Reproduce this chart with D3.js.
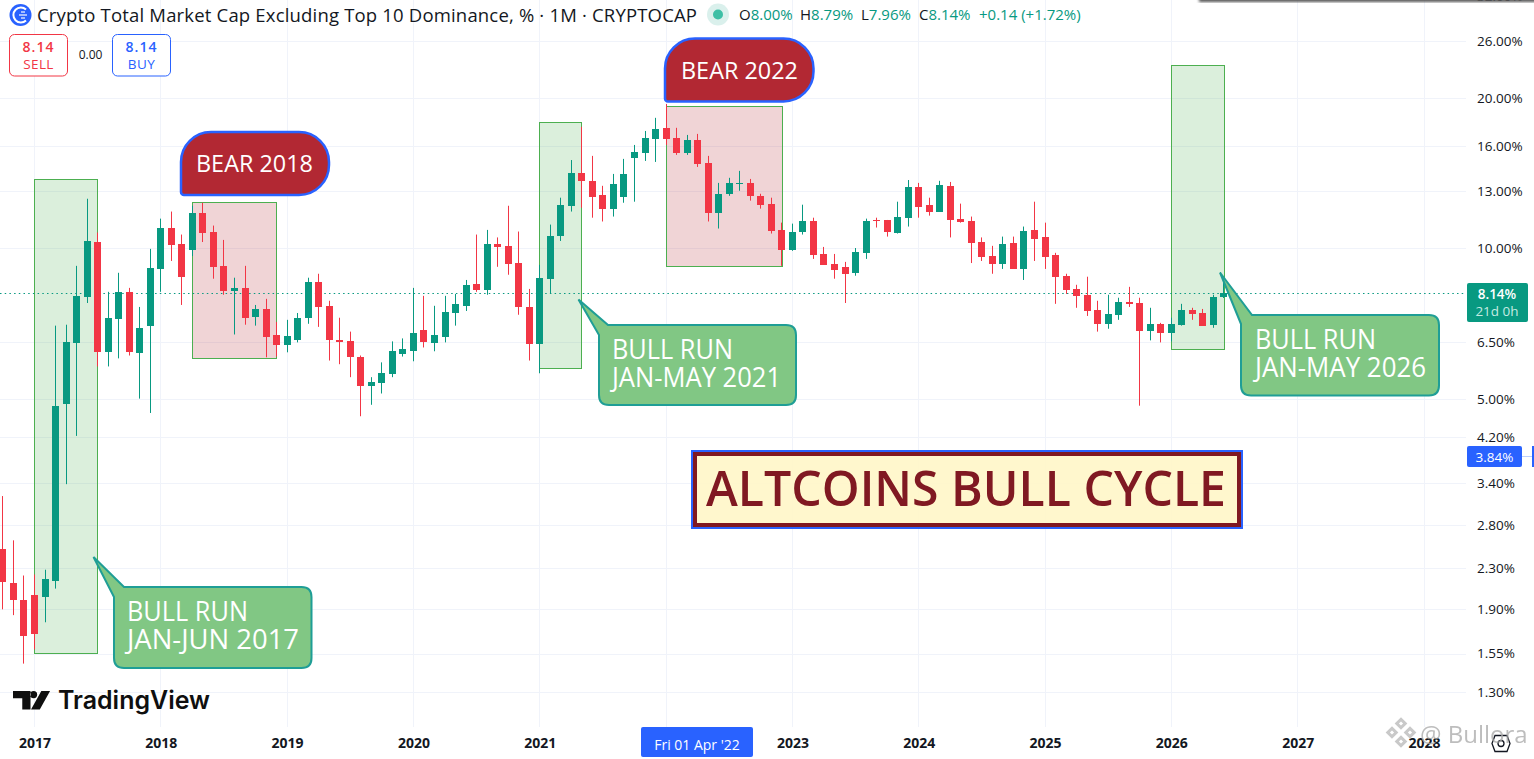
<!DOCTYPE html>
<html>
<head>
<meta charset="utf-8">
<title>Crypto Total Market Cap Excluding Top 10 Dominance</title>
<script src="https://cdn.jsdelivr.net/npm/d3@7"></script>
<style>
  html, body { margin: 0; padding: 0; background: #fff; overflow: hidden; }
  svg { display: block; font-family: "Open Sans", sans-serif; }
</style>
</head>
<body>
<svg id="chart" width="1534" height="759"></svg>
<script>
// monthly candles, first one is Oct 2016, one row per calendar year
const firstYear = 2016, firstMonth = 9

const opens = [
  2.51, 2.14, 1.98,
  2.03, 2.01, 2.17, 4.87, 6.49, 8.00, 10.30, 6.23, 7.23, 8.19, 6.20, 7.01,
  9.10, 11.01, 10.21, 9.93, 11.79, 10.81, 9.23, 8.23, 8.34, 7.30, 7.57, 6.70,
  6.40, 6.56, 7.27, 8.58, 7.68, 6.56, 6.52, 6.08, 5.31, 5.38, 5.61, 6.17,
  6.25, 6.87, 6.46, 6.67, 7.43, 7.68, 8.50, 8.26, 10.21, 10.12, 9.35, 7.64,
  6.46, 8.70, 10.61, 12.17, 14.16, 13.65, 12.80, 12.01, 12.68, 15.17, 15.52, 16.56,
  17.42, 16.63, 15.52, 16.47, 14.82, 11.79, 12.86, 13.46, 13.52, 12.74, 12.29, 10.89,
  9.93, 10.81, 11.37, 9.75, 9.31, 9.19, 8.94, 9.80, 11.40, 11.40, 10.76, 11.52,
  13.28, 12.23, 11.85, 13.34, 11.47, 11.37, 10.30, 9.66, 9.31, 10.26, 9.10, 10.89,
  10.56, 9.71, 8.82, 8.30, 8.08, 7.53, 7.07, 7.37, 7.82, 7.78, 6.85, 7.07,
  6.79, 7.04, 7.53, 7.43, 7.04, 8.00
]
const highs = [
  3.20, 2.61, 2.22,
  2.23, 2.28, 7.01, 7.04, 9.23, 12.57, 10.76, 8.19, 8.94, 8.34, 7.64, 9.98,
  11.47, 11.85, 10.66, 12.17, 12.34, 11.11, 10.40, 8.74, 9.23, 7.71, 7.93, 7.13,
  7.20, 7.43, 8.74, 8.90, 7.86, 7.27, 6.82, 6.11, 5.53, 5.92, 6.52, 6.61,
  8.34, 8.04, 7.68, 8.04, 8.11, 8.65, 10.66, 10.89, 10.52, 12.17, 10.81, 8.30,
  9.27, 11.16, 12.63, 15.02, 17.50, 15.31, 13.34, 14.09, 15.10, 16.10, 17.17, 18.24,
  19.44, 17.42, 16.86, 16.94, 15.31, 13.52, 13.84, 14.29, 13.77, 12.86, 12.63, 11.26,
  11.21, 12.23, 11.52, 10.07, 9.75, 9.40, 10.02, 11.47, 11.52, 11.40, 12.40, 13.70,
  13.52, 12.63, 13.65, 13.58, 12.29, 11.58, 10.52, 10.12, 10.56, 10.56, 11.06, 12.40,
  11.26, 9.80, 8.90, 8.46, 8.78, 7.86, 8.08, 7.97, 8.38, 7.97, 7.61, 7.10,
  7.27, 7.75, 7.61, 7.57, 8.08, 8.79
]
const lows = [
  1.90, 1.85, 1.48,
  1.58, 1.79, 2.09, 3.38, 4.22, 7.78, 5.81, 5.81, 6.03, 6.11, 5.01, 4.69,
  8.19, 9.44, 7.71, 9.66, 10.30, 8.70, 8.08, 6.73, 7.04, 7.01, 6.06, 6.08,
  6.20, 6.49, 7.07, 6.97, 5.97, 5.87, 5.53, 4.62, 4.87, 5.13, 5.53, 6.08,
  5.95, 6.34, 6.23, 6.49, 7.01, 7.50, 8.19, 8.08, 9.19, 8.86, 7.37, 5.97,
  5.63, 8.11, 10.35, 11.85, 12.06, 11.52, 11.32, 11.58, 12.34, 12.40, 14.96, 14.89,
  16.10, 15.38, 15.38, 14.55, 11.32, 10.96, 12.74, 13.04, 12.46, 12.01, 10.71, 9.23,
  9.89, 10.66, 9.53, 9.27, 8.70, 7.78, 8.82, 9.53, 11.01, 10.56, 10.71, 11.06,
  11.52, 11.63, 11.85, 10.52, 11.26, 9.35, 9.44, 8.90, 9.10, 9.10, 8.65, 9.44,
  9.10, 7.75, 8.11, 7.61, 7.33, 6.82, 6.91, 7.20, 7.64, 4.85, 6.55, 6.49,
  6.52, 7.01, 7.20, 7.01, 6.94, 7.96
]
const closes = [
  2.16, 1.98, 1.68,
  1.70, 2.18, 4.85, 6.49, 8.04, 10.35, 6.20, 7.27, 8.19, 6.20, 6.94, 9.14,
  11.01, 10.16, 8.78, 11.79, 10.76, 9.19, 8.23, 8.34, 7.27, 7.57, 6.67, 6.40,
  6.67, 7.27, 8.58, 7.64, 6.56, 6.49, 6.06, 5.31, 5.40, 5.63, 6.25, 6.31,
  6.79, 6.49, 6.70, 7.47, 7.75, 8.46, 8.26, 10.21, 10.07, 9.31, 7.64, 6.43,
  8.74, 10.61, 12.23, 14.16, 13.65, 12.68, 12.01, 13.46, 14.09, 15.59, 16.63, 17.34,
  16.56, 15.52, 16.47, 14.75, 11.79, 12.86, 13.52, 13.52, 12.74, 12.23, 10.86, 9.93,
  10.81, 11.37, 9.71, 9.27, 9.06, 8.90, 9.84, 11.37, 11.37, 10.81, 11.58, 13.28,
  12.12, 11.85, 13.40, 11.40, 11.32, 10.26, 9.62, 9.31, 10.21, 9.10, 10.86, 10.47,
  9.62, 8.78, 8.26, 8.04, 7.50, 7.07, 7.40, 7.82, 7.75, 6.85, 7.07, 6.79,
  7.07, 7.53, 7.40, 7.01, 8.00, 8.14
]

const priceTicks = [32, 26, 20, 16, 13, 10, 6.5, 5, 4.2, 3.4, 2.8, 2.3, 1.9, 1.55, 1.3]
const yearTicks = [2017, 2018, 2019, 2020, 2021, 2022, 2023, 2024, 2025, 2026, 2027, 2028]
const lastPrice = 8.14
const crossPrice = 3.84

// boxes drawn on the chart: [from year, from month, to year, to month, top %, bottom %]
const bullBoxes = [
  [2017, 0, 2017, 6, 13.74, 1.55],
  [2021, 0, 2021, 4, 17.87, 5.76],
  [2026, 0, 2026, 5, 23.21, 6.28]
]
const bearBoxes = [
  [2018, 3, 2018, 11, 12.41, 6.05],
  [2022, 0, 2022, 11, 19.27, 9.21]
]

const green = "#089981", red = "#f23645", blue = "#2962ff", ink = "#131722"
const width = 1534, height = 759
const plotRight = 1466, plotBottom = 727

const monthIndex = (year, month) => (year - firstYear) * 12 + month - firstMonth

const x = d3.scaleLinear().domain([0, 135]).range([2.9, 1424])
const y = d3.scaleLog().domain([1.3, 26]).range([691.8, 40.8])

const bars = closes.map((c, i) => ({ i, o: opens[i], h: highs[i], l: lows[i], c }))

const svg = d3.select("#chart")
svg.append("rect").attr("width", width).attr("height", height).attr("fill", "#fff")

// grid
svg.append("g").selectAll("line").data(priceTicks.slice(1)).join("line")
    .attr("x1", 0).attr("x2", plotRight)
    .attr("y1", d => Math.round(y(d)) + .5).attr("y2", d => Math.round(y(d)) + .5)
    .attr("stroke", "#f0f3fa")
svg.append("g").selectAll("line").data(yearTicks).join("line")
    .attr("x1", d => Math.floor(x(monthIndex(d, 0))) + .5).attr("x2", d => Math.floor(x(monthIndex(d, 0))) + .5)
    .attr("y1", 0).attr("y2", plotBottom)
    .attr("stroke", "#f0f3fa")

// shaded boxes
function drawBoxes(list, fill) {
  svg.append("g").selectAll("rect").data(list).join("rect")
      .attr("x", d => Math.floor(x(monthIndex(d[0], d[1]))) + .5)
      .attr("width", d => Math.round(x(monthIndex(d[2], d[3])) - x(monthIndex(d[0], d[1]))))
      .attr("y", d => Math.round(y(d[4])) + .5)
      .attr("height", d => Math.round(y(d[5]) - y(d[4])))
      .attr("fill", fill)
      .attr("stroke", "#4caf50")
      .attr("stroke-width", 1)
}
drawBoxes(bullBoxes, "rgba(76,175,80,.2)")
drawBoxes(bearBoxes, "rgba(178,40,51,.2)")

// last price line
svg.append("line")
    .attr("x1", 0).attr("x2", plotRight)
    .attr("y1", Math.floor(y(lastPrice)) + .5).attr("y2", Math.floor(y(lastPrice)) + .5)
    .attr("stroke", green).attr("stroke-dasharray", "1.5 3.2").attr("stroke-width", 1.2)

// candles
const candle = svg.append("g").selectAll("g").data(bars).join("g")
    .attr("fill", d => d.c >= d.o ? green : red)
    .attr("stroke", d => d.c >= d.o ? green : red)
candle.append("line")
    .attr("x1", d => Math.floor(x(d.i)) + .5).attr("x2", d => Math.floor(x(d.i)) + .5)
    .attr("y1", d => y(d.h)).attr("y2", d => y(d.l))
    .attr("stroke-width", 1)
candle.append("rect")
    .attr("x", d => Math.floor(x(d.i)) - 3).attr("width", 7)
    .attr("y", d => Math.round(y(Math.max(d.o, d.c))))
    .attr("height", d => Math.max(1, Math.round(Math.abs(y(d.o) - y(d.c)))))
    .attr("stroke", "none")

// right price scale
const yAxis = svg.append("g")
    .attr("transform", `translate(1467,0)`)
    .call(d3.axisRight(y).tickValues(priceTicks).tickSize(0).tickPadding(10)
      .tickFormat(d => d.toFixed(2) + "%"))
yAxis.select(".domain").remove()
yAxis.selectAll("text").attr("font-size", 13.5).attr("fill", ink).attr("font-family", "Open Sans")

// time scale
const xAxis = svg.append("g")
    .attr("transform", `translate(0,${plotBottom})`)
    .call(d3.axisBottom(x).tickValues(yearTicks.map(d => monthIndex(d, 0))).tickSize(0).tickPadding(11)
      .tickFormat(d => firstYear + Math.floor((d + firstMonth) / 12)))
xAxis.select(".domain").remove()
xAxis.selectAll("text").attr("font-size", 14).attr("font-weight", 700).attr("fill", ink).attr("font-family", "Open Sans")

// crosshair date label
svg.append("rect").attr("x", 641).attr("y", 727).attr("width", 112).attr("height", 30).attr("rx", 2).attr("fill", blue)
svg.append("text").attr("x", 697).attr("y", 750).attr("text-anchor", "middle")
    .attr("font-size", 14).attr("fill", "#fff").text("Fri 01 Apr '22")

// price labels
svg.append("rect").attr("x", 1467).attr("y", 283).attr("width", 61).attr("height", 39).attr("rx", 2).attr("fill", green)
svg.append("text").attr("x", 1497).attr("y", 299).attr("text-anchor", "middle")
    .attr("font-size", 13.5).attr("font-weight", 600).attr("fill", "#fff").text(lastPrice.toFixed(2) + "%")
svg.append("text").attr("x", 1497).attr("y", 316).attr("text-anchor", "middle")
    .attr("font-size", 13.5).attr("fill", "#c4ebe2").text("21d 0h")
svg.append("rect").attr("x", 1467).attr("y", 446).attr("width", 55).attr("height", 21).attr("rx", 2).attr("fill", blue)
svg.append("line").attr("x1", 1522).attr("x2", 1532).attr("y1", 456.5).attr("y2", 456.5).attr("stroke", "#bcd0ff")
svg.append("rect").attr("x", 1532).attr("y", 446).attr("width", 2).attr("height", 21).attr("fill", blue)
svg.append("text").attr("x", 1494.5).attr("y", 461.5).attr("text-anchor", "middle")
    .attr("font-size", 13.5).attr("fill", "#fff").text(crossPrice.toFixed(2) + "%")

// callouts
const callouts = [
  { left: 114, top: 587, right: 311.5, bottom: 668, tip: [93.5, 557], a: [124, 587], b: [114, 597], lines: ["BULL RUN", "JAN-JUN 2017"], fit: [121, 172], tx: 127, ty: 621 },
  { left: 599, top: 325, right: 796, bottom: 405, tip: [578.5, 299.5], a: [608, 325], b: [599, 335], lines: ["BULL RUN", "JAN-MAY 2021"], fit: [121, 169], tx: 612, ty: 359 },
  { left: 1241, top: 315, right: 1439, bottom: 395.5, tip: [1220, 272.5], a: [1252, 315], b: [1241, 324], lines: ["BULL RUN", "JAN-MAY 2026"], fit: [121, 171], tx: 1255, ty: 349 }
]
callouts.forEach(c => {
  const r = 10
  const p = d3.path()
  p.moveTo(c.b[0], c.b[1])
  p.lineTo(c.tip[0], c.tip[1])
  p.lineTo(c.a[0], c.a[1])
  p.lineTo(c.right - r, c.top)
  p.quadraticCurveTo(c.right, c.top, c.right, c.top + r)
  p.lineTo(c.right, c.bottom - r)
  p.quadraticCurveTo(c.right, c.bottom, c.right - r, c.bottom)
  p.lineTo(c.left + r, c.bottom)
  p.quadraticCurveTo(c.left, c.bottom, c.left, c.bottom - r)
  p.closePath()
  svg.append("path").attr("d", p.toString())
      .attr("fill", "#81c784").attr("stroke", "#1f9e96").attr("stroke-width", 2)
  c.lines.forEach((line, i) => {
    svg.append("text").attr("x", c.tx).attr("y", c.ty + i * 28)
        .attr("font-size", 27).attr("font-weight", 500).attr("fill", "#fff")
        .attr("textLength", c.fit[i]).attr("lengthAdjust", "spacingAndGlyphs")
        .text(line)
  })
})

// bear tags
const tags = [
  { left: 181, top: 132, right: 329, bottom: 195, text: "BEAR 2018", tx: 196, ty: 172 },
  { left: 665, top: 38.5, right: 813.5, bottom: 101.5, text: "BEAR 2022", tx: 681, ty: 79 }
]
tags.forEach(t => {
  const r = 30, rs = 3
  const p = d3.path()
  p.moveTo(t.left + r, t.top)
  p.lineTo(t.right - r, t.top)
  p.arcTo(t.right, t.top, t.right, t.top + r, r)
  p.lineTo(t.right, t.bottom - r)
  p.arcTo(t.right, t.bottom, t.right - r, t.bottom, r)
  p.lineTo(t.left + rs, t.bottom)
  p.arcTo(t.left, t.bottom, t.left, t.bottom - rs, rs)
  p.lineTo(t.left, t.top + r)
  p.arcTo(t.left, t.top, t.left + r, t.top, r)
  p.closePath()
  svg.append("path").attr("d", p.toString())
      .attr("fill", "#b22833").attr("stroke", blue).attr("stroke-width", 2.5)
  svg.append("text").attr("x", t.tx).attr("y", t.ty).attr("font-size", 24.5).attr("font-weight", 500).attr("fill", "#fff")
      .attr("textLength", 117).attr("lengthAdjust", "spacingAndGlyphs").text(t.text)
})

// title box
svg.append("rect").attr("x", 692).attr("y", 451).attr("width", 550).attr("height", 77)
    .attr("fill", "none").attr("stroke", blue).attr("stroke-width", 2)
svg.append("rect").attr("x", 695).attr("y", 454).attr("width", 544).attr("height", 71)
    .attr("fill", "rgba(255,246,200,.9)").attr("stroke", "#801922").attr("stroke-width", 4)
svg.append("text").attr("x", 706).attr("y", 505.5)
    .attr("font-size", 49).attr("font-weight", 600).attr("fill", "#801922")
    .attr("textLength", 520).attr("lengthAdjust", "spacingAndGlyphs").text("ALTCOINS BULL CYCLE")

// header
svg.append("circle").attr("cx", 20.5).attr("cy", 15).attr("r", 11).attr("fill", blue)
svg.append("path").attr("d", "M26 9.5A7.5 7.5 0 1 0 26 20.5").attr("fill", "none").attr("stroke", "#fff").attr("stroke-width", 2)
svg.append("path").attr("d", "M19 15H27M21 12H25M21 18H25").attr("fill", "none").attr("stroke", "#cfdcff").attr("stroke-width", 1.5)
svg.append("text").attr("x", 37).attr("y", 22).attr("font-size", 18.5).attr("fill", ink)
    .attr("textLength", 660).text("Crypto Total Market Cap Excluding Top 10 Dominance, % · 1M · CRYPTOCAP")
svg.append("circle").attr("cx", 718).attr("cy", 14.5).attr("r", 11).attr("fill", green).attr("opacity", .15)
svg.append("circle").attr("cx", 718).attr("cy", 14.5).attr("r", 5).attr("fill", "#3dbfa5")

const ohlc = [["O", "8.00%", 739], ["H", "8.79%", 800], ["L", "7.96%", 861], ["C", "8.14%", 919]]
ohlc.forEach(d => {
  const t = svg.append("text").attr("x", d[2]).attr("y", 20).attr("font-size", 15)
  t.append("tspan").attr("fill", ink).text(d[0])
  t.append("tspan").attr("fill", green).text(d[1])
})
svg.append("text").attr("x", 979).attr("y", 20).attr("font-size", 15).attr("fill", green).text("+0.14 (+1.72%)")

// sell / buy
function tradeBox(left, color, price, name) {
  svg.append("rect").attr("x", left).attr("y", 34.5).attr("width", 58).attr("height", 41.5)
      .attr("rx", 5).attr("fill", "#fff").attr("stroke", color)
  svg.append("text").attr("x", left + 29).attr("y", 52).attr("text-anchor", "middle")
      .attr("font-size", 14).attr("font-weight", 600).attr("letter-spacing", 1).attr("fill", color).text(price)
  svg.append("text").attr("x", left + 29).attr("y", 69).attr("text-anchor", "middle")
      .attr("font-size", 13.5).attr("letter-spacing", .4).attr("fill", color).text(name)
}
tradeBox(9.5, red, "8.14", "SELL")
tradeBox(112.5, blue, "8.14", "BUY")
svg.append("text").attr("x", 90.5).attr("y", 59).attr("text-anchor", "middle")
    .attr("font-size", 12).attr("fill", ink).text("0.00")

// tradingview logo
svg.append("path")
    .attr("transform", "translate(13,691) scale(1.03)")
    .attr("d", "M17 0H0V7H9V18H17ZM26 18H17.5L27.5 0H36ZM20 7A3.5 3.5 0 1 1 20 0A3.5 3.5 0 0 1 20 7Z")
    .attr("fill", "#0f0f0f")
svg.append("text").attr("x", 58).attr("y", 709).attr("font-size", 25).attr("font-weight", 600)
    .attr("font-family", "Inter").attr("fill", "#0f0f0f")
    .attr("textLength", 152).attr("lengthAdjust", "spacingAndGlyphs").text("TradingView")

// settings icon
svg.append("path").attr("d", "M1495 735.5H1507L1510 743.5L1507 751.5H1495L1492 743.5Z").attr("fill", "none").attr("stroke", ink).attr("stroke-width", 1.3)
svg.append("circle").attr("cx", 1501).attr("cy", 743.5).attr("r", 3).attr("fill", "none").attr("stroke", ink).attr("stroke-width", 1.3)

// watermark
svg.append("g").attr("transform", "translate(1401,732.5)").attr("fill", "none").attr("stroke", "#c9c9c9").attr("stroke-width", 3)
    .selectAll("rect").data([[0, -9], [-9, 0], [9, 0], [0, 9]]).join("rect")
    .attr("x", -3).attr("y", -3).attr("width", 6).attr("height", 6)
    .attr("transform", d => `translate(${d[0]},${d[1]}) rotate(45)`)
svg.append("text").attr("x", 1420).attr("y", 743).attr("font-size", 24).attr("fill", "#a8a8a8").attr("opacity", .75).text("@ Bullora")

// shadow of the menu at the top edge
const defs = svg.append("defs")
defs.append("filter").attr("id", "soft").append("feGaussianBlur").attr("stdDeviation", 1.5)
svg.append("rect").attr("x", 1199).attr("y", -6).attr("width", 340).attr("height", 8)
    .attr("fill", "#555").attr("filter", "url(#soft)")
</script>
</body>
</html>
